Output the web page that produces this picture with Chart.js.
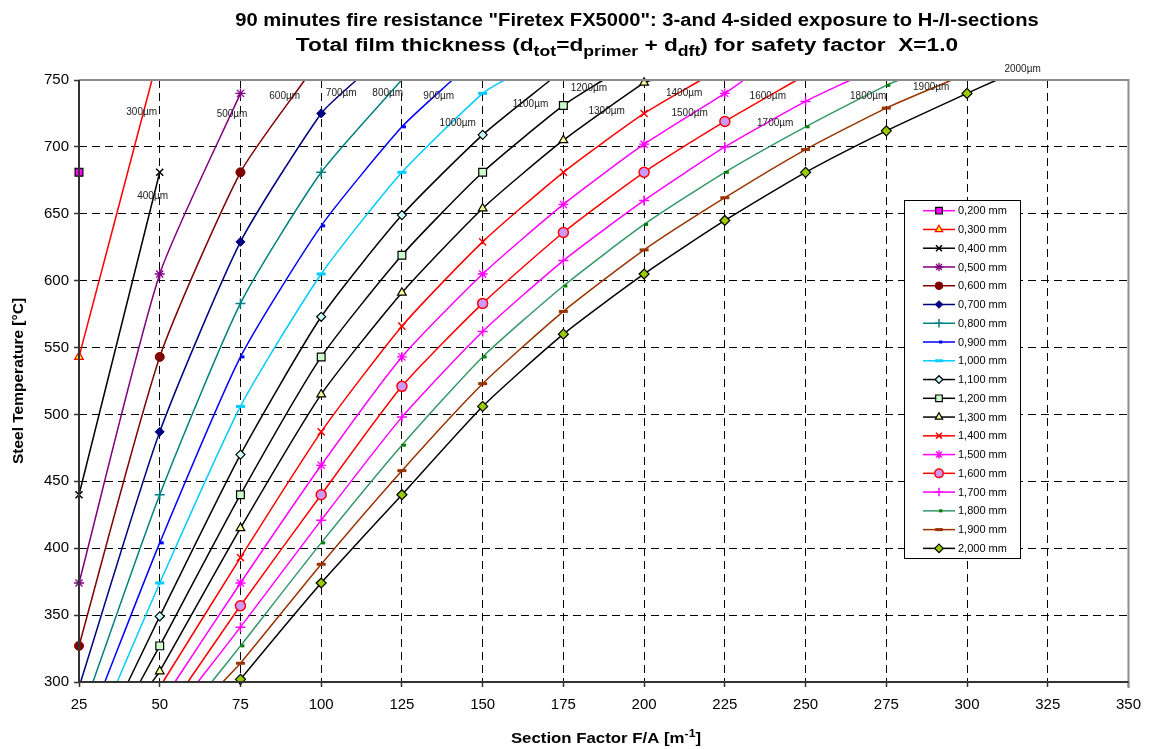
<!DOCTYPE html>
<html>
<head>
<meta charset="utf-8">
<title>Firetex FX5000 - 90 minutes</title>
<script src="https://cdn.jsdelivr.net/npm/chart.js@4.4.1/dist/chart.umd.min.js"></script>
<style>
    html, body { margin: 0; padding: 0; background: #fff; }
    #wrap { width: 1150px; height: 749px; position: relative; }
</style>
</head>
<body>
<div id="wrap"><canvas id="chart"></canvas></div>
<script>
// Section factor columns F/A [m-1]
const sectionFactors = [25, 50, 75, 100, 125, 150, 175, 200, 225, 250, 275, 300];

// Steel temperature [°C] per film thickness, one value per section factor column
const t200  = [681];
const t300  = [543];
const t400  = [440, 681];
const t500  = [374, 605, 740];
const t600  = [327, 543, 681];
const t700  = [null, 487, 629, 725];
const t800  = [null, 440, 583, 681];
const t900  = [null, 404, 543, 641, 715];
const t1000 = [null, 374, 506, 605, 681, 740];
const t1100 = [null, 349, 470, 573, 649, 709];
const t1200 = [null, 327, 440, 543, 619, 681, 731];
const t1300 = [null, 308, 415, 515, 591, 654, 705, 748];
const t1400 = [null, null, 393, 487, 566, 629, 681, 725];
const t1500 = [null, null, 374, 462, 543, 605, 657, 702, 740];
const t1600 = [null, null, 357, 440, 521, 583, 636, 681, 719];
const t1700 = [null, null, 341, 421, 498, 562, 615, 660, 700, 734];
const t1800 = [null, null, 327, 404, 477, 543, 596, 642, 681, 715, 746];
const t1900 = [null, null, 314, 388, 458, 523, 577, 623, 662, 698, 729];
const t2000 = [null, null, 302, 374, 440, 506, 560, 605, 645, 681, 712, 740];

// Where each curve leaves the plot: F/A at 300 °C (bottom) and at 750 °C (top)
const bottomExitX = [null, null, null, null, null, 25.5, 29.3, 33.0, 36.8, 40.2, 43.9, 47.6, 51.0, 54.7, 58.7, 61.8, 66.1, 69.5, 74.7];
const topExitX    = [null, 47.6, null, null, 94.9, 110.9, 124.9, 140.6, 156.7, 171.0, 187.3, 202.5, 217.6, 230.9, 247.3, 263.9, 278.9, 295.3, 309.2];

const legendLabels = ['0,200 mm', '0,300 mm', '0,400 mm', '0,500 mm', '0,600 mm', '0,700 mm', '0,800 mm',
    '0,900 mm', '1,000 mm', '1,100 mm', '1,200 mm', '1,300 mm', '1,400 mm', '1,500 mm', '1,600 mm',
    '1,700 mm', '1,800 mm', '1,900 mm', '2,000 mm'];

// Curve labels written near the top of the plot, anchored in data units
const curveLabels = ['300µm', '400µm', '500µm', '600µm', '700µm', '800µm', '900µm', '1000µm', '1100µm',
    '1200µm', '1300µm', '1400µm', '1500µm', '1600µm', '1700µm', '1800µm', '1900µm', '2000µm'];
const curveLabelX = [44.4, 47.8, 72.4, 88.7, 106.2, 120.6, 136.4, 142.3, 164.8, 182.9, 188.4, 212.4, 214.1, 238.3, 240.6, 269.4, 288.9, 317.2];
const curveLabelY = [726, 663, 724.6, 738, 740, 740, 738, 718, 731.6, 744.2, 726.3, 740, 725, 738, 718, 738, 744.6, 757.9];

const xTicks = { min: 25, max: 350, step: 25 };
const yTicks = { min: 300, max: 750, step: 50 };

const allTemps = [t200, t300, t400, t500, t600, t700, t800, t900, t1000, t1100,
    t1200, t1300, t1400, t1500, t1600, t1700, t1800, t1900, t2000];

// Excel-like series styles
const seriesStyles = [
    { line: '#FF00FF', fill: '#FF00FF', border: '#000000', shape: 'rect',     r: 5.5, bw: 1.2 },
    { line: '#FF0000', fill: '#FFFF00', border: '#FF0000', shape: 'triangle', r: 5,   bw: 1.2 },
    { line: '#000000', fill: '#000000', border: '#000000', shape: 'crossRot', r: 5,   bw: 1.5 },
    { line: '#800080', fill: '#800080', border: '#800080', shape: 'star',     r: 5,   bw: 1.3 },
    { line: '#800000', fill: '#800000', border: '#800000', shape: 'circle',   r: 4.5, bw: 1 },
    { line: '#000080', fill: '#000080', border: '#000080', shape: 'rectRot',  r: 4.5, bw: 1 },
    { line: '#008080', fill: '#008080', border: '#008080', shape: 'cross',    r: 5,   bw: 1.5 },
    { line: '#0000FF', fill: '#0000FF', border: '#0000FF', shape: 'dash',     r: 4,   bw: 3 },
    { line: '#00CCFF', fill: '#00CCFF', border: '#00CCFF', shape: 'line',     r: 4.5, bw: 3 },
    { line: '#000000', fill: '#CCFFFF', border: '#000000', shape: 'rectRot',  r: 4.5, bw: 1.2 },
    { line: '#000000', fill: '#CCFFCC', border: '#000000', shape: 'rect',     r: 5.5, bw: 1.2 },
    { line: '#000000', fill: '#FFFF99', border: '#000000', shape: 'triangle', r: 5,   bw: 1.2 },
    { line: '#FF0000', fill: '#FF0000', border: '#FF0000', shape: 'crossRot', r: 5,   bw: 1.5 },
    { line: '#FF00FF', fill: '#FF00FF', border: '#FF00FF', shape: 'star',     r: 5,   bw: 1.3 },
    { line: '#FF0000', fill: '#CC99FF', border: '#FF0000', shape: 'circle',   r: 5,   bw: 1.5 },
    { line: '#FF00FF', fill: '#FF00FF', border: '#FF00FF', shape: 'cross',    r: 5,   bw: 1.5 },
    { line: '#339966', fill: '#008000', border: '#008000', shape: 'dash',     r: 4,   bw: 3 },
    { line: '#993300', fill: '#993300', border: '#993300', shape: 'line',     r: 4.5, bw: 3 },
    { line: '#000000', fill: '#99CC00', border: '#000000', shape: 'rectRot',  r: 5,   bw: 1.2 }
];

const FONT = '"Liberation Sans", Arial, Helvetica, sans-serif';

// Build one dataset per thickness
function buildPoints(temps, i) {
    const pts = [];
    if (bottomExitX[i] !== null) pts.push({ x: bottomExitX[i], y: yTicks.min, edge: true });
    temps.forEach((t, k) => {
        if (t !== null && t !== undefined) pts.push({ x: sectionFactors[k], y: t });
    });
    if (topExitX[i] !== null) pts.push({ x: topExitX[i], y: yTicks.max, edge: true });
    return pts;
}

const datasets = allTemps.map((temps, i) => {
    const s = seriesStyles[i];
    return {
        label: legendLabels[i],
        data: buildPoints(temps, i),
        borderColor: s.line,
        borderWidth: 1.5,
        backgroundColor: s.fill,
        pointBackgroundColor: s.fill,
        pointBorderColor: s.border,
        pointBorderWidth: s.bw,
        pointStyle: s.shape,
        pointRadius: ctx => (ctx.raw && ctx.raw.edge ? 0 : s.r),
        pointHoverRadius: ctx => (ctx.raw && ctx.raw.edge ? 0 : s.r),
        tension: 0.2,
        clip: false,
        fill: false
    };
});

// Draw text with sub-/superscript parts, centred at cx; sx stretches horizontally
function drawRich(ctx, parts, cx, y, size, sx) {
    sx = sx || 1;
    const fontFor = p => `bold ${(p.sub || p.sup) ? Math.round(size * 0.75) : size}px ${FONT}`;
    let total = 0;
    parts.forEach(p => { ctx.font = fontFor(p); total += ctx.measureText(p.t).width; });
    ctx.save();
    ctx.translate(cx, y);
    ctx.scale(sx, 1);
    let px = -total / 2;
    ctx.textAlign = 'left';
    ctx.textBaseline = 'alphabetic';
    parts.forEach(p => {
        ctx.font = fontFor(p);
        const dy = p.sub ? size * 0.3 : (p.sup ? -size * 0.42 : 0);
        ctx.fillText(p.t, px, dy);
        px += ctx.measureText(p.t).width;
    });
    ctx.restore();
}

const decorPlugin = {
    id: 'decor',
    beforeDraw(chart) {
        const ctx = chart.ctx;
        ctx.save();
        ctx.fillStyle = '#ffffff';
        ctx.fillRect(0, 0, chart.width, chart.height);
        ctx.restore();
    },
    afterDatasetsDraw(chart) {
        const { ctx, chartArea: a } = chart;
        ctx.save();
        // plot frame: grey top/right, dark axes left/bottom
        ctx.lineWidth = 2;
        ctx.strokeStyle = '#8c8c8c';
        ctx.beginPath();
        ctx.moveTo(a.left, a.top);
        ctx.lineTo(a.right, a.top);
        ctx.lineTo(a.right, a.bottom + 6);
        ctx.stroke();
        ctx.strokeStyle = '#333333';
        ctx.beginPath();
        ctx.moveTo(a.left, a.top);
        ctx.lineTo(a.left, a.bottom);
        ctx.lineTo(a.right, a.bottom);
        ctx.stroke();
        ctx.restore();
    },
    afterDraw(chart) {
        const { ctx, chartArea: a, scales } = chart;
        const xs = scales.x, ys = scales.y;
        ctx.save();

        // titles
        ctx.fillStyle = '#000';
        drawRich(ctx, [{ t: '90 minutes fire resistance "Firetex FX5000": 3-and 4-sided exposure to H-/I-sections' }], 637, 26, 18, 1.12);
        drawRich(ctx, [
            { t: 'Total film thickness (d' }, { t: 'tot', sub: true },
            { t: '=d' }, { t: 'primer', sub: true },
            { t: ' + d' }, { t: 'dft', sub: true },
            { t: ') for safety factor  X=1.0' }
        ], 627, 51, 18, 1.26);

        // axis titles
        drawRich(ctx, [{ t: 'Section Factor F/A [m' }, { t: '-1', sup: true }, { t: ']' }], 606, 743, 15, 1.12);
        ctx.save();
        ctx.translate(19, (a.top + a.bottom) / 2);
        ctx.rotate(-Math.PI / 2);
        ctx.font = `bold 15.5px ${FONT}`;
        ctx.textAlign = 'center';
        ctx.textBaseline = 'middle';
        ctx.fillText('Steel Temperature [°C]', 0, 0);
        ctx.restore();

        // curve labels
        ctx.font = `10px ${FONT}`;
        ctx.fillStyle = '#222';
        ctx.textAlign = 'center';
        ctx.textBaseline = 'middle';
        curveLabels.forEach((lbl, i) => {
            ctx.fillText(lbl, xs.getPixelForValue(curveLabelX[i]), ys.getPixelForValue(curveLabelY[i]));
        });

        // legend box
        const box = { left: 904, top: 200, width: 116, height: 358 };
        ctx.fillStyle = '#fff';
        ctx.fillRect(box.left, box.top, box.width, box.height);
        ctx.lineWidth = 1;
        ctx.strokeStyle = '#000';
        ctx.strokeRect(box.left + 0.5, box.top + 0.5, box.width, box.height);
        legendLabels.forEach((lbl, i) => {
            const s = seriesStyles[i];
            const cy = 210.7 + i * 18.76;
            ctx.strokeStyle = s.line;
            ctx.lineWidth = 1.5;
            ctx.beginPath();
            ctx.moveTo(923, cy);
            ctx.lineTo(955, cy);
            ctx.stroke();
            ctx.fillStyle = s.fill;
            ctx.strokeStyle = s.border;
            ctx.lineWidth = s.bw;
            Chart.helpers.drawPoint(ctx, { pointStyle: s.shape, radius: s.r * 0.85, borderWidth: s.bw, rotation: 0 }, 939, cy);
            ctx.fillStyle = '#000';
            ctx.font = `11px ${FONT}`;
            ctx.textAlign = 'left';
            ctx.textBaseline = 'middle';
            ctx.fillText(lbl, 958, cy + 0.5);
        });
        ctx.restore();
    }
};

const gridCommon = {
    color: '#000000',
    lineWidth: 1,
    drawTicks: true,
    tickLength: 5,
    tickColor: '#333333',
    tickBorderDash: [],
    tickWidth: 1.5
};

new Chart(document.getElementById('chart'), {
    type: 'line',
    data: { datasets: datasets },
    options: {
        responsive: true,
        maintainAspectRatio: false,
        animation: false,
        layout: { padding: { top: 80, right: 20, left: 0, bottom: 0 } },
        plugins: {
            legend: { display: false },
            title: { display: false },
            tooltip: { enabled: false }
        },
        scales: {
            x: {
                type: 'linear',
                min: xTicks.min,
                max: xTicks.max,
                grid: gridCommon,
                border: { display: false, dash: [8, 5] },
                ticks: {
                    stepSize: xTicks.step,
                    color: '#000',
                    font: { family: FONT, size: 15 },
                    padding: 9,
                    maxRotation: 0
                },
                afterFit: scale => { scale.height = 67; }
            },
            y: {
                type: 'linear',
                min: yTicks.min,
                max: yTicks.max,
                grid: gridCommon,
                border: { display: false, dash: [8, 5] },
                ticks: {
                    stepSize: yTicks.step,
                    color: '#000',
                    font: { family: FONT, size: 15 },
                    padding: 5
                },
                afterFit: scale => { scale.width = 79; }
            }
        }
    },
    plugins: [decorPlugin]
});
</script>
</body>
</html>
